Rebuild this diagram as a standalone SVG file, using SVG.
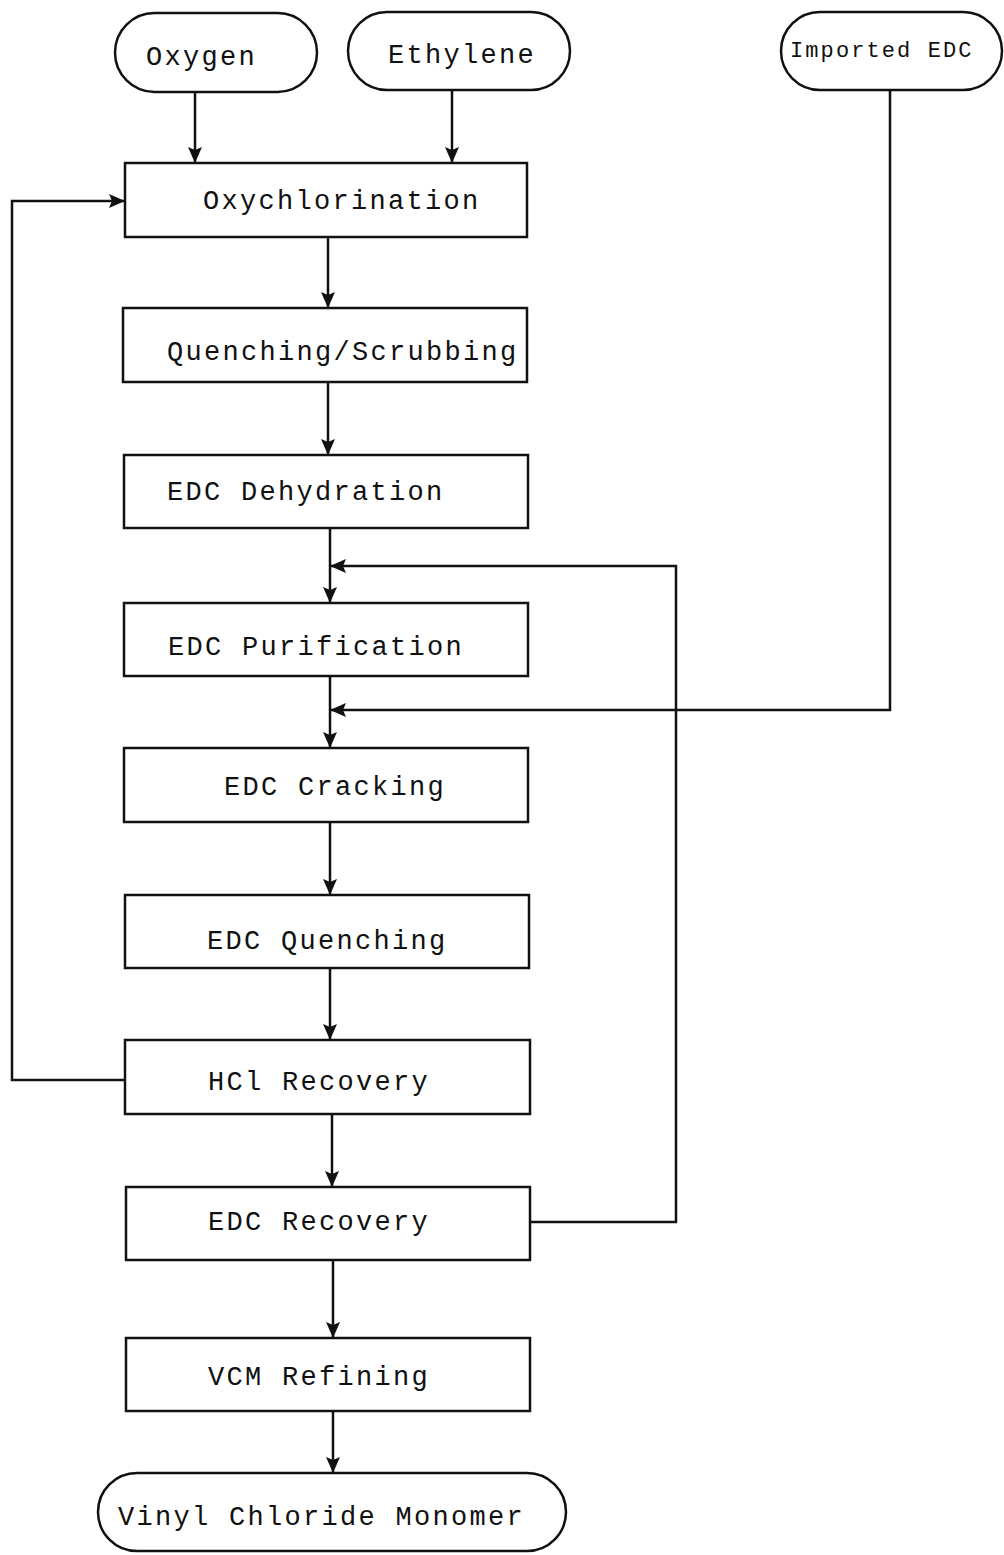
<svg xmlns="http://www.w3.org/2000/svg" width="1004" height="1555" viewBox="0 0 1004 1555">
<defs>
<style>
.box{fill:#fff;stroke:#111;stroke-width:2.5}
.t{font-family:"Liberation Mono","Courier New",monospace;font-size:27px;letter-spacing:2.3px;fill:#111}
.ts{font-family:"Liberation Mono","Courier New",monospace;font-size:22px;letter-spacing:2.1px;fill:#111}
.ln{fill:none;stroke:#111;stroke-width:2.5}
</style>
<marker id="ah" viewBox="0 0 16 14" refX="15" refY="7" markerWidth="16" markerHeight="14" markerUnits="userSpaceOnUse" orient="auto">
<path d="M0,0 L16,7 L0,14 L3,7 Z" fill="#111"/>
</marker>
</defs>
<rect width="1004" height="1555" fill="#fff"/>
<g id="connectors">
<path class="ln" d="M195,92 L195,162" marker-end="url(#ah)"/>
<path class="ln" d="M452,90 L452,162" marker-end="url(#ah)"/>
<path class="ln" d="M328,237 L328,307" marker-end="url(#ah)"/>
<path class="ln" d="M328,382 L328,454" marker-end="url(#ah)"/>
<path class="ln" d="M330,528 L330,602" marker-end="url(#ah)"/>
<path class="ln" d="M330,676 L330,747" marker-end="url(#ah)"/>
<path class="ln" d="M330,822 L330,894" marker-end="url(#ah)"/>
<path class="ln" d="M330,968 L330,1039" marker-end="url(#ah)"/>
<path class="ln" d="M332,1114 L332,1186" marker-end="url(#ah)"/>
<path class="ln" d="M333,1260 L333,1337" marker-end="url(#ah)"/>
<path class="ln" d="M333,1411 L333,1472" marker-end="url(#ah)"/>
<path class="ln" d="M125,1080 L12,1080 L12,201 L124,201" marker-end="url(#ah)"/>
<path class="ln" d="M530,1222 L676,1222 L676,566 L331,566" marker-end="url(#ah)"/>
<path class="ln" d="M890,90 L890,710 L331,710" marker-end="url(#ah)"/>
</g>
<g id="oxygen"><rect class="box" x="115" y="13" width="202" height="79" rx="39.5"/><text class="t" x="146" y="65">Oxygen</text></g>
<g id="ethylene"><rect class="box" x="348" y="12" width="222" height="78" rx="39"/><text class="t" x="388" y="63">Ethylene</text></g>
<g id="imported-edc"><rect class="box" x="781" y="12" width="221" height="78" rx="39"/><text class="ts" x="790" y="57">Imported EDC</text></g>
<g id="oxychlorination"><rect class="box" x="125" y="163" width="402" height="74"/><text class="t" x="203" y="209">Oxychlorination</text></g>
<g id="quenching-scrubbing"><rect class="box" x="123" y="308" width="404" height="74"/><text class="t" x="167" y="360">Quenching/Scrubbing</text></g>
<g id="edc-dehydration"><rect class="box" x="124" y="455" width="404" height="73"/><text class="t" x="167" y="500">EDC Dehydration</text></g>
<g id="edc-purification"><rect class="box" x="124" y="603" width="404" height="73"/><text class="t" x="168" y="655">EDC Purification</text></g>
<g id="edc-cracking"><rect class="box" x="124" y="748" width="404" height="74"/><text class="t" x="224" y="795">EDC Cracking</text></g>
<g id="edc-quenching"><rect class="box" x="125" y="895" width="404" height="73"/><text class="t" x="207" y="949">EDC Quenching</text></g>
<g id="hcl-recovery"><rect class="box" x="125" y="1040" width="405" height="74"/><text class="t" x="208" y="1090">HCl Recovery</text></g>
<g id="edc-recovery"><rect class="box" x="126" y="1187" width="404" height="73"/><text class="t" x="208" y="1230">EDC Recovery</text></g>
<g id="vcm-refining"><rect class="box" x="126" y="1338" width="404" height="73"/><text class="t" x="208" y="1385">VCM Refining</text></g>
<g id="vinyl-chloride-monomer"><rect class="box" x="98" y="1473" width="468" height="78" rx="39"/><text class="t" x="118" y="1525">Vinyl Chloride Monomer</text></g>
</svg>
